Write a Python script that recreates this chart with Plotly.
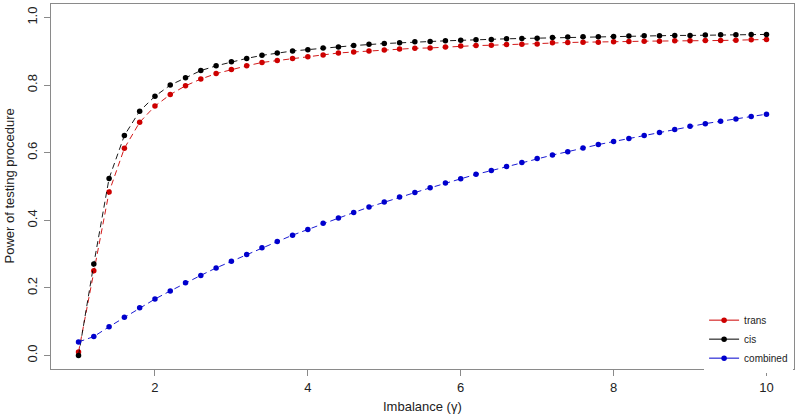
import plotly.graph_objects as go

imbalance = [1.0, 1.2, 1.4, 1.6, 1.8, 2.0, 2.2, 2.4, 2.6, 2.8,
             3.0, 3.2, 3.4, 3.6, 3.8, 4.0, 4.2, 4.4, 4.6, 4.8,
             5.0, 5.2, 5.4, 5.6, 5.8, 6.0, 6.2, 6.4, 6.6, 6.8,
             7.0, 7.2, 7.4, 7.6, 7.8, 8.0, 8.2, 8.4, 8.6, 8.8,
             9.0, 9.2, 9.4, 9.6, 9.8, 10.0]

trans = [0.010, 0.251, 0.484, 0.613, 0.690, 0.738, 0.772, 0.798, 0.818, 0.834,
         0.846, 0.857, 0.867, 0.873, 0.879, 0.884, 0.889, 0.895, 0.898, 0.901,
         0.904, 0.907, 0.909, 0.910, 0.913, 0.916, 0.917, 0.918, 0.920, 0.921,
         0.922, 0.925, 0.926, 0.927, 0.927, 0.928, 0.929, 0.930, 0.930, 0.931,
         0.931, 0.932, 0.932, 0.933, 0.934, 0.935]

cis = [0.000, 0.271, 0.524, 0.651, 0.723, 0.767, 0.800, 0.822, 0.843, 0.857,
       0.869, 0.879, 0.888, 0.895, 0.901, 0.905, 0.910, 0.913, 0.917, 0.921,
       0.923, 0.925, 0.928, 0.929, 0.931, 0.933, 0.934, 0.935, 0.937, 0.938,
       0.939, 0.941, 0.942, 0.943, 0.943, 0.944, 0.945, 0.946, 0.946, 0.947,
       0.947, 0.948, 0.949, 0.949, 0.950, 0.950]

combined = [0.040, 0.056, 0.085, 0.113, 0.141, 0.167, 0.191, 0.215, 0.237, 0.259,
            0.279, 0.299, 0.319, 0.337, 0.356, 0.373, 0.391, 0.407, 0.423, 0.439,
            0.454, 0.469, 0.482, 0.496, 0.510, 0.523, 0.536, 0.547, 0.559, 0.571,
            0.583, 0.593, 0.603, 0.614, 0.624, 0.633, 0.642, 0.651, 0.660, 0.669,
            0.678, 0.686, 0.693, 0.700, 0.707, 0.714]

x_ticks = [2, 4, 6, 8, 10]
y_ticks = [0.0, 0.2, 0.4, 0.6, 0.8, 1.0]
y_ticktext = ["0.0", "0.2", "0.4", "0.6", "0.8", "1.0"]

series = [
    ("trans", trans, "#CD0000"),
    ("cis", cis, "#000000"),
    ("combined", combined, "#0000CD"),
]

FONT = "Liberation Sans, Arial, Helvetica, sans-serif"

fig = go.Figure()
for name, vals, col in series:
    fig.add_trace(go.Scatter(
        x=imbalance, y=vals, name=name, mode="lines+markers",
        line=dict(color=col, width=0.9, dash="6px,4px"),
        marker=dict(color=col, size=5.5, line=dict(width=0)),
        showlegend=False,
    ))
# legend entries (solid line keys, as in the original)
for name, vals, col in series:
    fig.add_trace(go.Scatter(
        x=[None], y=[None], name=name, mode="lines+markers",
        line=dict(color=col, width=1),
        marker=dict(color=col, size=5.5, line=dict(width=0)),
        showlegend=True,
    ))

axis_common = dict(
    showgrid=False, zeroline=False, showline=True, mirror=True,
    linecolor="#8a8a8a", linewidth=1.2, automargin=False,
    ticks="outside", ticklen=6, tickcolor="#8a8a8a", tickwidth=1,
    tickfont=dict(family=FONT, size=13, color="#222222"),
)

fig.update_layout(
    width=798, height=419,
    margin=dict(l=51, r=4, t=4, b=50),
    paper_bgcolor="white", plot_bgcolor="white",
    font=dict(family=FONT, size=13, color="#222222"),
    xaxis=dict(range=[0.64, 10.36], tickvals=x_ticks, **axis_common),
    yaxis=dict(range=[-0.04, 1.04], tickvals=y_ticks, ticktext=y_ticktext,
               tickangle=-90, ticklabelstandoff=2, **axis_common),
    legend=dict(x=0.879, y=-0.01, xanchor="left", yanchor="bottom",
                bgcolor="white", borderwidth=0,
                font=dict(family=FONT, size=10, color="#222222"),
                itemwidth=30, tracegroupgap=0),
    showlegend=True,
    annotations=[
        dict(text="Imbalance (γ)", xref="paper", yref="paper",
             x=0.5, y=-0.104, xanchor="center", yanchor="middle",
             showarrow=False, font=dict(family=FONT, size=13, color="#222222")),
        dict(text="Power of testing procedure", xref="paper", yref="paper",
             x=-0.0565, y=0.5, xanchor="center", yanchor="middle", textangle=-90,
             showarrow=False, font=dict(family=FONT, size=13, color="#222222")),
    ],
)

fig.write_html("out.html",
               config={"displayModeBar": False},
               post_script="document.body.style.margin='0';document.body.style.overflow='hidden';")
